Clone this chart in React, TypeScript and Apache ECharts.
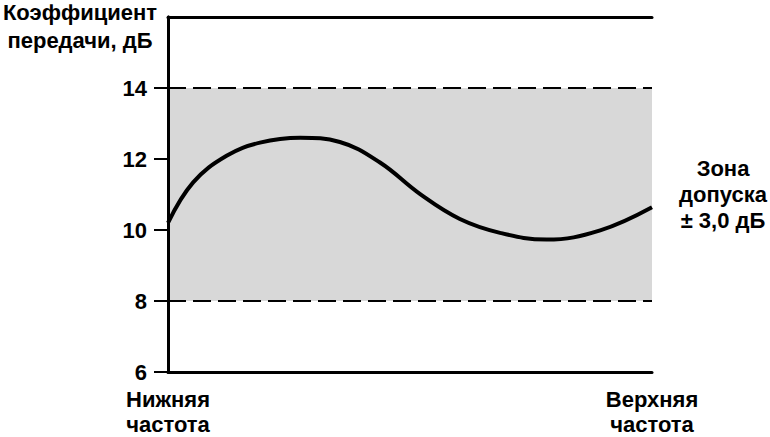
import React, { useEffect, useRef } from "react";
import * as echarts from "echarts";

const freqPos = [0, 5.2, 12.1, 19.0, 27.3, 35.5, 43.8, 52.1, 60.3, 68.6, 78.2, 89.3, 100];
const gainDb = [10.2, 11.34, 12.09, 12.46, 12.6, 12.48, 11.9, 11.01, 10.31, 9.92, 9.73, 9.99, 10.64];
const yTicks = [6, 8, 10, 12, 14];
const bandLimits = [8, 14];
const xLabels = ["Нижняя\nчастота", "Верхняя\nчастота"];
const yTitle = ["Коэффициент", "передачи, дБ"];
const zoneText = ["Зона", "допуска", "± 3,0 дБ"];

const FONT = "'Liberation Sans', Arial, sans-serif";
const FS = 22;

export default function App() {
  const ref = useRef<HTMLDivElement>(null);
  useEffect(() => {
    if (!ref.current) return;
    const chart = echarts.init(ref.current, null, { renderer: "svg" });
    const data = freqPos.map((x, i) => [x, gainDb[i]]);
    const lineAxis = { show: true, lineStyle: { color: "#000", width: 3 } };
    chart.setOption({
      animation: false,
      backgroundColor: "#fff",
      textStyle: { fontFamily: FONT },
      grid: { left: 168, right: 118, top: 17, bottom: 63, show: false },
      xAxis: [
        {
          type: "value",
          min: 0,
          max: 100,
          interval: 100,
          z: 5,
          axisLine: lineAxis,
          axisTick: { show: false },
          splitLine: { show: false },
          axisLabel: {
            margin: 15,
            color: "#000",
            fontSize: FS,
            fontWeight: "bold",
            lineHeight: 25,
            fontFamily: FONT,
            formatter: (v: number) => (v === 0 ? xLabels[0] : v === 100 ? xLabels[1] : ""),
          },
        },
        {
          type: "value",
          position: "top",
          min: 0,
          max: 100,
          z: 5,
          axisLine: lineAxis,
          axisTick: { show: false },
          splitLine: { show: false },
          axisLabel: { show: false },
        },
      ],
      yAxis: [
        {
          type: "value",
          min: 6,
          max: 16,
          interval: 2,
          z: 5,
          axisLine: lineAxis,
          axisTick: {
            show: true,
            length: 14,
            lineStyle: { color: "#000", width: 2 },
            customValues: yTicks,
          },
          splitLine: { show: false },
          axisLabel: {
            margin: 21,
            color: "#000",
            fontSize: FS,
            fontWeight: "bold",
            fontFamily: FONT,
            customValues: yTicks,
          },
        },
        {
          type: "value",
          position: "right",
          min: 6,
          max: 16,
          z: 5,
          axisLine: lineAxis,
          axisTick: { show: false },
          splitLine: { show: false },
          axisLabel: { show: false },
        },
      ],
      series: [
        {
          type: "line",
          data,
          smooth: 0.4,
          showSymbol: false,
          lineStyle: { color: "#000", width: 4 },
          z: 3,
          markArea: {
            silent: true,
            itemStyle: { color: "#d8d8d8" },
            data: [[{ yAxis: bandLimits[0] }, { yAxis: bandLimits[1] }]],
          },
          markLine: {
            silent: true,
            symbol: "none",
            label: { show: false },
            lineStyle: { color: "#000", width: 2, type: [18, 7] },
            data: bandLimits.map((v) => ({ yAxis: v })),
          },
        },
      ],
      graphic: [
        {
          type: "text",
          style: {
            text: yTitle.join("\n"),
            font: `bold ${FS}px ${FONT}`,
            fill: "#000",
            align: "center",
            lineHeight: 28,
            x: 80,
            y: -2,
          },
        },
        {
          type: "text",
          style: {
            text: zoneText.join("\n"),
            font: `bold ${FS}px ${FONT}`,
            fill: "#000",
            align: "center",
            lineHeight: 26,
            x: 723,
            y: 155,
          },
        },
      ],
    });
    return () => chart.dispose();
  }, []);
  return (
    <div
      ref={ref}
      style={{ position: "absolute", left: 0, top: 0, width: 770, height: 437 }}
    />
  );
}
